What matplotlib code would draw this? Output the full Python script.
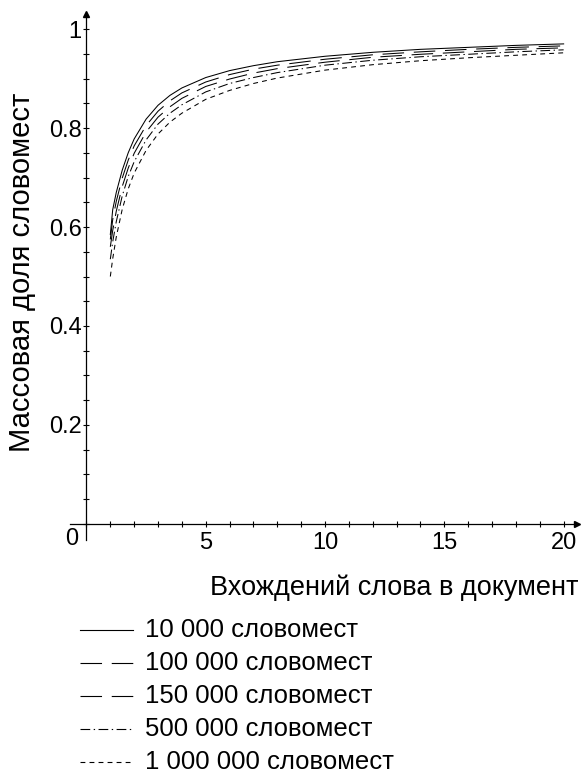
import matplotlib
matplotlib.use("Agg")
import matplotlib.pyplot as plt
from matplotlib.ticker import MultipleLocator, FixedLocator

plt.rcParams['font.family'] = ['Liberation Sans', 'DejaVu Sans']
plt.rcParams['lines.scale_dashes'] = False

# ---- data ----
x_vals = [1, 1.1, 1.25, 1.5, 1.75, 2, 2.5, 3, 3.5, 4, 5, 6, 7, 8, 10, 12, 14, 16, 18, 20]
y_10k = [0.585, 0.635, 0.670, 0.715, 0.750, 0.778, 0.818, 0.846, 0.866, 0.881,
         0.902, 0.916, 0.926, 0.934, 0.945, 0.953, 0.959, 0.963, 0.967, 0.970]
y_100k = [0.575, 0.615, 0.652, 0.699, 0.735, 0.764, 0.805, 0.834, 0.855, 0.871,
          0.893, 0.908, 0.919, 0.927, 0.939, 0.948, 0.954, 0.959, 0.963, 0.966]
y_150k = [0.560, 0.593, 0.632, 0.682, 0.719, 0.749, 0.792, 0.822, 0.843, 0.860,
          0.884, 0.899, 0.911, 0.920, 0.933, 0.943, 0.949, 0.954, 0.959, 0.962]
y_500k = [0.535, 0.570, 0.611, 0.663, 0.702, 0.732, 0.776, 0.808, 0.830, 0.847,
          0.873, 0.890, 0.902, 0.912, 0.927, 0.937, 0.944, 0.949, 0.954, 0.958]
y_1m = [0.500, 0.536, 0.580, 0.636, 0.677, 0.709, 0.755, 0.788, 0.812, 0.830,
        0.858, 0.876, 0.890, 0.901, 0.917, 0.928, 0.936, 0.942, 0.947, 0.952]

series = [y_10k, y_100k, y_150k, y_500k, y_1m]
labels = ["10 000 словомест", "100 000 словомест", "150 000 словомест",
          "500 000 словомест", "1 000 000 словомест"]
x_ticklabels = ["5", "10", "15", "20"]
x_ticks = [5, 10, 15, 20]
y_ticks = [0.2, 0.4, 0.6, 0.8, 1.0]
y_ticklabels = ["0.2", "0.4", "0.6", "0.8", "1"]
xlabel = "Вхождений слова в документ"
ylabel = "Массовая доля словомест"

styles = [
    dict(linestyle='-'),
    dict(linestyle=(0, (15.5, 7))),
    dict(linestyle=(0, (15.5, 7))),
    dict(linestyle=(0, (7, 2.5, 1, 2.5))),
    dict(linestyle=(0, (3.5, 3))),
]

W, H = 581, 775
fig = plt.figure(figsize=(W / 100, H / 100), dpi=100)
fs_tick = 17
fs_xlab = 19.5
fs_ylab = 21
fs_leg = 18.5

# axes placed in pixel geometry
left_px, right_px = 70, 577
top_px, bot_px = 14.2, 539.8
ax = fig.add_axes([left_px / W, 1 - bot_px / H, (right_px - left_px) / W, (bot_px - top_px) / H])
ax.set_xlim(-0.69, 20.56)
ax.set_ylim(-0.032, 1.03)

for ys, st in zip(series, styles):
    ax.plot(x_vals, ys, color='black', lw=0.75, **st)

for s in ['top', 'right']:
    ax.spines[s].set_visible(False)
ax.spines['left'].set_position(('data', 0))
ax.spines['bottom'].set_position(('data', 0))
for s in ['left', 'bottom']:
    ax.spines[s].set_linewidth(0.9)

ax.plot(1, 0, '>k', transform=ax.get_yaxis_transform(), clip_on=False, ms=5)
ax.plot(0, 1, '^k', transform=ax.get_xaxis_transform(), clip_on=False, ms=5)

ax.xaxis.set_major_locator(FixedLocator(x_ticks))
ax.set_xticklabels(x_ticklabels)
ax.xaxis.set_minor_locator(MultipleLocator(1))
ax.yaxis.set_major_locator(FixedLocator(y_ticks))
ax.set_yticklabels(y_ticklabels)
ax.yaxis.set_minor_locator(MultipleLocator(0.05))
ax.tick_params(which='both', direction='inout', length=5, width=0.8, labelsize=fs_tick)
ax.tick_params(axis='x', which='major', pad=3)
ax.tick_params(axis='y', which='major', pad=1)
ax.text(-0.6, -0.008, "0", ha='center', va='top', fontsize=fs_tick)

# overlay in pixel coordinates for labels and legend
ov = fig.add_axes([0, 0, 1, 1], facecolor='none')
ov.set_xlim(0, W)
ov.set_ylim(H, 0)
ov.axis('off')
ov.text(578, 588, xlabel, ha='right', va='center', fontsize=fs_xlab)
ov.text(22, 272, ylabel, ha='center', va='center', rotation=90, fontsize=fs_ylab)

row_y = [630, 663, 696, 729, 762]
for yy, lab, st in zip(row_y, labels, styles):
    ov.plot([80, 133], [yy, yy], color='black', lw=0.8, **st)
    ov.text(145, yy, lab, ha='left', va='center', fontsize=fs_leg)

fig.savefig("out.png", dpi=100)
